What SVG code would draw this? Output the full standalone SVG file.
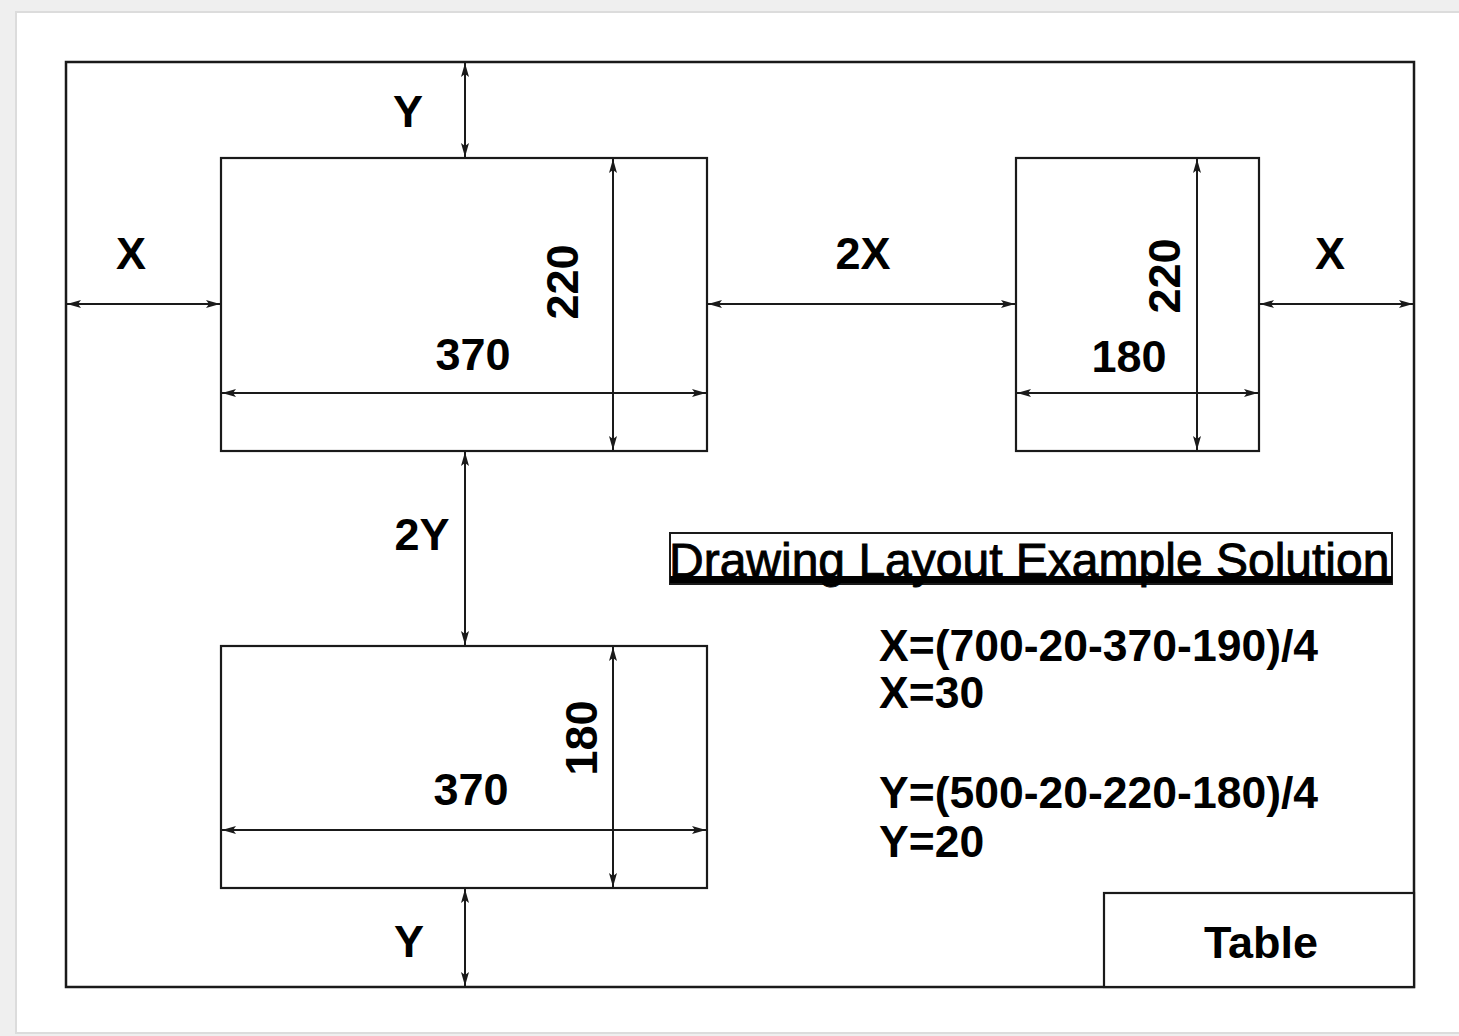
<svg xmlns="http://www.w3.org/2000/svg" width="1459" height="1036" viewBox="0 0 1459 1036">
<defs>
<style>
.box{fill:#fff;stroke:#1a1a1a;stroke-width:2.2}
.dim{fill:none;stroke:#1a1a1a;stroke-width:2;marker-start:url(#ah);marker-end:url(#ah)}
.lbl{font-family:"Liberation Sans",Arial,sans-serif;font-weight:bold;font-size:45px;fill:#000}
.frm{font-size:44.5px}
.mid{text-anchor:middle}
.ttl{font-family:"Liberation Sans",Arial,sans-serif;font-size:48px;fill:#000;stroke:#000;stroke-width:0.9}
</style>
<marker id="ah" markerUnits="userSpaceOnUse" markerWidth="16" markerHeight="10" refX="14" refY="5" orient="auto-start-reverse" viewBox="0 0 16 10">
<path d="M0,1 L14,5 L0,9 L3,5 z" fill="#1a1a1a"/>
</marker>
</defs>
<rect x="0" y="0" width="1459" height="1036" fill="#efefef"/>
<rect x="16" y="12" width="1450" height="1021" fill="#fff" stroke="#dcdcdc" stroke-width="2"/>

<g id="frame">
<rect x="66" y="62" width="1348" height="925" fill="none" stroke="#1a1a1a" stroke-width="2.5"/>
</g>

<g id="rectA">
<rect class="box" x="221" y="158" width="486" height="293"/>
<text class="lbl mid" x="473" y="370">370</text>
<text class="lbl mid" transform="translate(578,282) rotate(-90)">220</text>
</g>

<g id="rectB">
<rect class="box" x="1016" y="158" width="243" height="293"/>
<text class="lbl mid" x="1129" y="372">180</text>
<text class="lbl mid" transform="translate(1180,276) rotate(-90)">220</text>
</g>

<g id="rectC">
<rect class="box" x="221" y="646" width="486" height="242"/>
<text class="lbl mid" x="471" y="805">370</text>
<text class="lbl mid" transform="translate(597,738) rotate(-90)">180</text>
</g>

<g id="table">
<rect class="box" x="1104" y="893" width="310" height="94"/>
<text class="lbl mid" x="1261" y="958">Table</text>
</g>

<g id="title">
<rect x="670" y="533" width="722" height="51" fill="#fff" stroke="#1a1a1a" stroke-width="2"/>
<text class="ttl" x="669" y="577">Drawing Layout Example Solution</text>
<rect x="670" y="576" width="722" height="7" fill="#000"/>
</g>

<g id="formulas">
<text class="lbl frm" x="879" y="661">X=(700-20-370-190)/4</text>
<text class="lbl frm" x="879" y="708">X=30</text>
<text class="lbl frm" x="879" y="808">Y=(500-20-220-180)/4</text>
<text class="lbl frm" x="879" y="857">Y=20</text>
</g>

<g id="connectors">
<line class="dim" x1="613" y1="159" x2="613" y2="450"/>
<line class="dim" x1="222" y1="393" x2="706" y2="393"/>
<line class="dim" x1="1197" y1="159" x2="1197" y2="450"/>
<line class="dim" x1="1017" y1="393" x2="1258" y2="393"/>
<line class="dim" x1="613" y1="647" x2="613" y2="887"/>
<line class="dim" x1="222" y1="830" x2="706" y2="830"/>
<line class="dim" x1="465" y1="63" x2="465" y2="157"/>
<line class="dim" x1="67" y1="304" x2="220" y2="304"/>
<line class="dim" x1="708" y1="304" x2="1015" y2="304"/>
<line class="dim" x1="1260" y1="304" x2="1413" y2="304"/>
<line class="dim" x1="465" y1="452" x2="465" y2="645"/>
<line class="dim" x1="465" y1="889" x2="465" y2="986"/>
</g>

<g id="labels">
<text class="lbl mid" x="408" y="127">Y</text>
<text class="lbl mid" x="131" y="269">X</text>
<text class="lbl mid" x="863" y="269">2X</text>
<text class="lbl mid" x="1330" y="269">X</text>
<text class="lbl mid" x="422" y="550">2Y</text>
<text class="lbl mid" x="409" y="957">Y</text>
</g>
</svg>
